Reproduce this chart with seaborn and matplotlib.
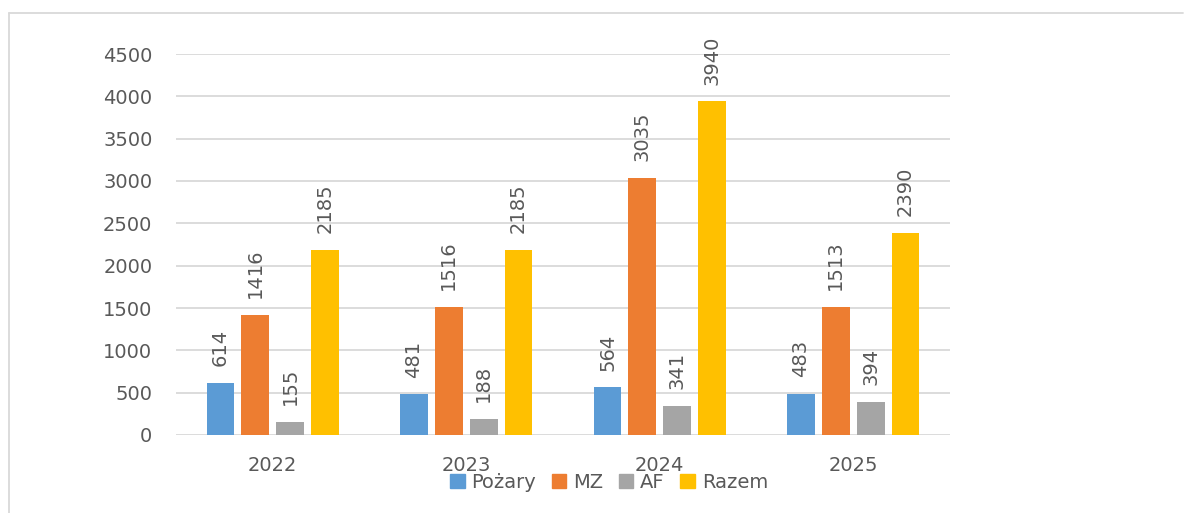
import matplotlib
matplotlib.use("Agg")
import matplotlib.pyplot as plt
from matplotlib.lines import Line2D
import seaborn as sns
import pandas as pd

years = ["2022", "2023", "2024", "2025"]
series = ["Pożary", "MZ", "AF", "Razem"]
pozary = [614, 481, 564, 483]
mz = [1416, 1516, 3035, 1513]
af = [155, 188, 341, 394]
razem = [2185, 2185, 3940, 2390]
yticks = [0, 500, 1000, 1500, 2000, 2500, 3000, 3500, 4000, 4500]
colors = ["#5B9BD5", "#ED7D31", "#A5A5A5", "#FFC000"]

rows = []
for name, vals in zip(series, [pozary, mz, af, razem]):
    for y, v in zip(years, vals):
        rows.append({"Rok": y, "Seria": name, "Wartość": v})
df = pd.DataFrame(rows)

sns.set_theme(style="white")
plt.rcParams["font.family"] = ["DejaVu Sans"]
TXT = "#595959"
GRID = "#D9D9D9"
FS = 14

fig = plt.figure(figsize=(11.84, 5.13), dpi=100)
ax = fig.add_axes([176/1184, 1-435/513, (950-176)/1184, (435-54)/513])

sns.barplot(data=df, x="Rok", y="Wartość", hue="Seria", order=years,
            hue_order=series, palette=colors, width=0.72, gap=0.2,
            saturation=1, ax=ax, legend=False, errorbar=None, linewidth=0)

for cont in ax.containers:
    ax.bar_label(cont, labels=[f"{int(v)}" for v in cont.datavalues],
                 rotation=90, padding=12, color=TXT, fontsize=FS)

ax.set_ylim(0, 4500)
ax.set_xlim(-0.5, 3.5)
ax.set_yticks(yticks)
ax.set_yticklabels([str(t) for t in yticks])
ax.yaxis.grid(True, color=GRID, linewidth=1.3)
ax.set_axisbelow(True)
for s in ax.spines.values():
    s.set_visible(False)
ax.tick_params(axis="both", length=0, labelsize=FS, colors=TXT)
ax.tick_params(axis="y", pad=17)
ax.tick_params(axis="x", pad=15)
ax.set_xlabel("")
ax.set_ylabel("")

handles = [plt.Rectangle((0, 0), 1, 1, color=c) for c in colors]
fig.legend(handles, series, loc="center", bbox_to_anchor=(609/1184, 1-482/513),
           ncol=4, frameon=False, fontsize=FS, labelcolor=TXT,
           handlelength=0.75, handleheight=0.75, handletextpad=0.35,
           columnspacing=0.8, borderpad=0, borderaxespad=0)

# chart border (top and left visible)
fig.add_artist(Line2D([9/1184, 1183/1184], [1-13/513, 1-13/513],
                      transform=fig.transFigure, color=GRID, linewidth=1.3))
fig.add_artist(Line2D([9/1184, 9/1184], [1-13/513, 0],
                      transform=fig.transFigure, color=GRID, linewidth=1.3))

fig.savefig("out.png", dpi=100)
